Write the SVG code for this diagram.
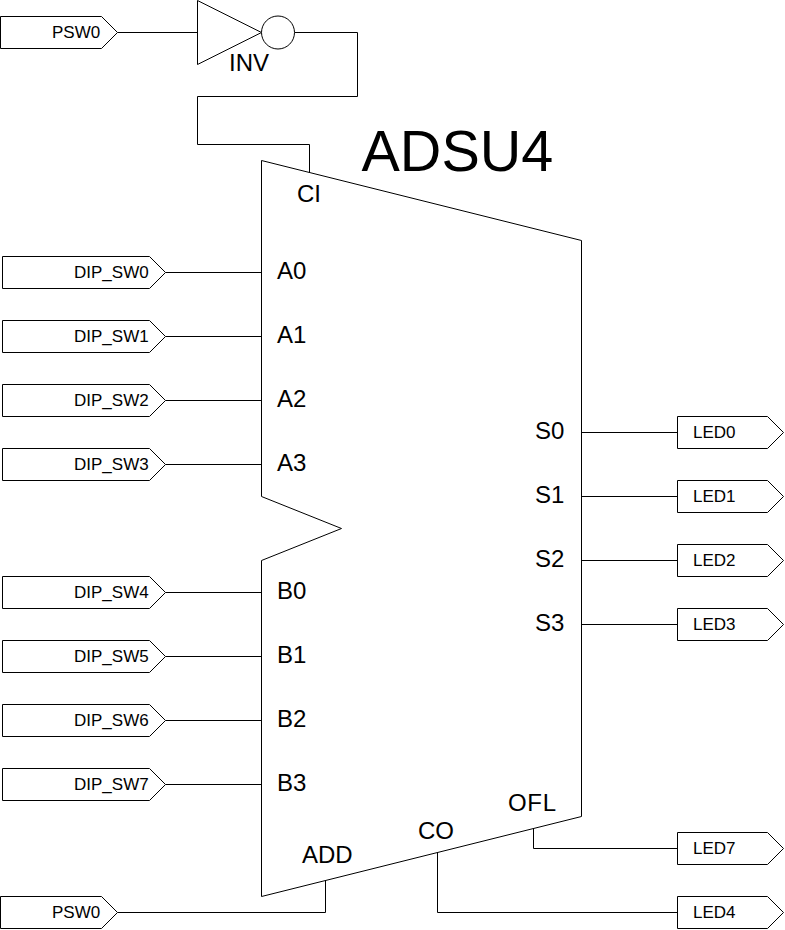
<svg xmlns="http://www.w3.org/2000/svg" width="785" height="930" viewBox="0 0 785 930">
<defs>
<style>
.s{fill:none;stroke:#000;stroke-width:1}
.p{fill:#fff;stroke:#000;stroke-width:1}
.l{font-family:"Liberation Sans",Arial,sans-serif;font-size:17px;fill:#000}
.n{font-family:"Liberation Sans",Arial,sans-serif;font-size:24px;fill:#000}
.t{font-family:"Liberation Sans",Arial,sans-serif;font-size:57.500px;fill:#000}
</style>
<polygon id="inL" points="2.500,0.500 149.500,0.500 165.500,16.500 149.500,32.500 2.500,32.500"/>
<polygon id="inS" points="0.500,0.500 101.500,0.500 117.500,16.500 101.500,32.500 0.500,32.500"/>
<polygon id="out" points="677.500,0.500 767.500,0.500 783.500,16.500 767.500,32.500 677.500,32.500"/>
</defs>
<g id="connectors">
<path class="s" d="M117.500 32.500H197.500M294.500 32.500H357.500V96.500H197.500V144.500H309.500V172"/>
<path class="s" d="M165.500 272.500H261.500M165.500 336.500H261.500M165.500 400.500H261.500M165.500 464.500H261.500M165.500 592.500H261.500M165.500 656.500H261.500M165.500 720.500H261.500M165.500 784.500H261.500"/>
<path class="s" d="M581.500 432.500H677.500M581.500 496.500H677.500M581.500 560.500H677.500M581.500 624.500H677.500"/>
<path class="s" d="M533.500 828V848.500H677.500M437.500 853V912.500H677.500M117.500 912.500H325.500V880"/>
</g>
<g id="inv"><polygon class="p" points="197.500,0.500 261.500,32.500 197.500,64.500"/><circle class="p" cx="278" cy="32.500" r="16.500"/><text class="n" x="229" y="71">INV</text></g>
<g id="adsu4"><polygon class="p" points="261.500,160.500 581.500,240.500 581.500,816.500 261.500,896.500 261.500,560.500 341.500,528.500 261.500,496.500"/>
<text class="t" x="361.500" y="171">ADSU4</text>
<text class="n" x="297" y="202">CI</text>
<text class="n" x="277" y="279">A0</text><text class="n" x="277" y="343">A1</text><text class="n" x="277" y="407">A2</text><text class="n" x="277" y="471">A3</text>
<text class="n" x="277" y="599">B0</text><text class="n" x="277" y="663">B1</text><text class="n" x="277" y="727">B2</text><text class="n" x="277" y="791">B3</text>
<text class="n" x="535" y="439">S0</text><text class="n" x="535" y="503">S1</text><text class="n" x="535" y="567">S2</text><text class="n" x="535" y="631">S3</text>
<text class="n" x="508" y="811" letter-spacing="0.700">OFL</text><text class="n" x="418" y="839">CO</text><text class="n" x="302" y="863">ADD</text></g>
<g id="psw0-top"><use href="#inS" y="16" class="p"/><text class="l" x="52" y="38">PSW0</text></g>
<g id="dip0"><use href="#inL" y="256" class="p"/><text class="l" x="74" y="278">DIP_SW0</text></g>
<g id="dip1"><use href="#inL" y="320" class="p"/><text class="l" x="74" y="342">DIP_SW1</text></g>
<g id="dip2"><use href="#inL" y="384" class="p"/><text class="l" x="74" y="406">DIP_SW2</text></g>
<g id="dip3"><use href="#inL" y="448" class="p"/><text class="l" x="74" y="470">DIP_SW3</text></g>
<g id="dip4"><use href="#inL" y="576" class="p"/><text class="l" x="74" y="598">DIP_SW4</text></g>
<g id="dip5"><use href="#inL" y="640" class="p"/><text class="l" x="74" y="662">DIP_SW5</text></g>
<g id="dip6"><use href="#inL" y="704" class="p"/><text class="l" x="74" y="726">DIP_SW6</text></g>
<g id="dip7"><use href="#inL" y="768" class="p"/><text class="l" x="74" y="790">DIP_SW7</text></g>
<g id="psw0-bottom"><use href="#inS" y="896" class="p"/><text class="l" x="52" y="918">PSW0</text></g>
<g id="led0"><use href="#out" y="416" class="p"/><text class="l" x="693" y="438">LED0</text></g>
<g id="led1"><use href="#out" y="480" class="p"/><text class="l" x="693" y="502">LED1</text></g>
<g id="led2"><use href="#out" y="544" class="p"/><text class="l" x="693" y="566">LED2</text></g>
<g id="led3"><use href="#out" y="608" class="p"/><text class="l" x="693" y="630">LED3</text></g>
<g id="led7"><use href="#out" y="832" class="p"/><text class="l" x="693" y="854">LED7</text></g>
<g id="led4"><use href="#out" y="896" class="p"/><text class="l" x="693" y="918">LED4</text></g>
</svg>
